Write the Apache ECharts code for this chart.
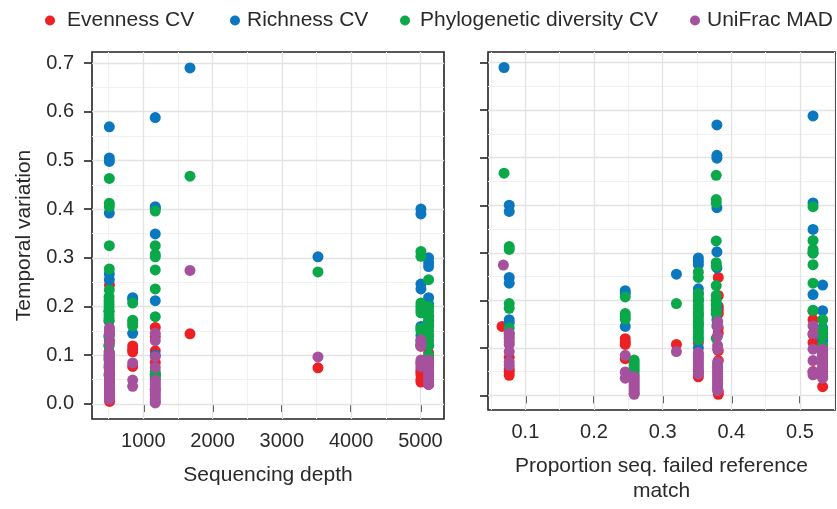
<!DOCTYPE html>
<html><head><meta charset="utf-8">
<script src="https://cdn.jsdelivr.net/npm/echarts@6/dist/echarts.min.js"></script>
<style>html,body{margin:0;padding:0;background:#fff}#c{width:837px;height:509px}</style>
</head><body><div id="c"></div>
<script>
const seriesNames = ['Evenness CV','Richness CV','Phylogenetic diversity CV','UniFrac MAD'];
const colors = ['#ED2024','#0A77BE','#0BA84A','#A5519E'];

// Left panel: groups of [sequencing depth, [temporal variation values]]
const evennessByDepth = [
  [512,[0.244,0.145,0.13]],
  [506,[0.107,0.09,0.075]],
  [514,[0.06,0.045,0.03,0.02,0.012,0.005]],
  [847,[0.119,0.112,0.107,0.077]],
  [1173,[0.157,0.138,0.109,0.085,0.06,0.03]],
  [1674,[0.144]],
  [3521,[0.074]],
  [5007,[0.084,0.07,0.065,0.06,0.05,0.045]],
  [5118,[0.105,0.095,0.06,0.04]]
];
const richnessByDepth = [
  [510,[0.569,0.505,0.498,0.392,0.267,0.255]],
  [505,[0.19,0.17,0.14,0.12,0.095,0.06]],
  [847,[0.218,0.215,0.145]],
  [1173,[0.588,0.405,0.402,0.349,0.212,0.1]],
  [1674,[0.69]],
  [3521,[0.302]],
  [5007,[0.4,0.39,0.246,0.236,0.159,0.14,0.12]],
  [5118,[0.3,0.29,0.282,0.218,0.205,0.2,0.18,0.17,0.16,0.14,0.12]]
];
const phyloByDepth = [
  [510,[0.463,0.412,0.405,0.325,0.277,0.234]],
  [506,[0.22,0.212,0.205,0.198,0.19,0.183,0.176,0.17,0.138,0.12,0.1,0.08]],
  [847,[0.207,0.172,0.166,0.16]],
  [1173,[0.396,0.325,0.307,0.302,0.275,0.236,0.179,0.066,0.061,0.056,0.052]],
  [1674,[0.4675]],
  [3521,[0.271]],
  [5007,[0.313,0.303,0.207,0.2,0.193,0.187,0.155,0.15,0.13,0.12]],
  [5118,[0.255,0.2,0.19,0.18,0.172,0.166,0.16,0.15,0.14,0.13,0.12,0.1]]
];
const unifracByDepth = [
  [512,[0.156,0.15,0.142,0.125,0.105,0.1,0.095,0.09,0.085,0.08,0.075,0.07,0.065,0.06,0.055,0.05,0.045,0.04,0.035,0.03,0.025,0.02,0.015,0.01]],
  [847,[0.084,0.049,0.036]],
  [1173,[0.145,0.13,0.097,0.075,0.049,0.045,0.04,0.035,0.03,0.025,0.02,0.015,0.01,0.005,0.002]],
  [1674,[0.274]],
  [3521,[0.0965]],
  [5007,[0.131,0.125,0.118,0.09,0.084,0.077]],
  [5118,[0.09,0.085,0.08,0.075,0.07,0.065,0.06,0.055,0.05,0.045,0.04]]
];

// Right panel: groups of [proportion failed reference match, [values]]
const evennessByProp = [
  [0.066,[0.145]],
  [0.0765,[0.08,0.056,0.05,0.042]],
  [0.2455,[0.119,0.112,0.107,0.077]],
  [0.32,[0.107]],
  [0.352,[0.111,0.05,0.039]],
  [0.381,[0.248,0.21,0.187,0.18,0.172,0.142,0.131,0.094,0.073,0.008,0.002]],
  [0.519,[0.177,0.159,0.128,0.111,0.05]],
  [0.533,[0.018]]
];
const richnessByProp = [
  [0.069,[0.69]],
  [0.0765,[0.4,0.387,0.248,0.236,0.159,0.152]],
  [0.2455,[0.22,0.215,0.145]],
  [0.32,[0.255]],
  [0.352,[0.289,0.282,0.275,0.224,0.214,0.2,0.17,0.15,0.1]],
  [0.379,[0.569,0.505,0.499,0.395,0.302,0.268,0.19,0.18,0.159,0.146]],
  [0.519,[0.588,0.405,0.349,0.3,0.212]],
  [0.533,[0.232,0.178,0.142,0.13,0.12,0.115]]
];
const phyloByProp = [
  [0.069,[0.4675]],
  [0.0765,[0.313,0.307,0.193,0.183,0.142,0.13]],
  [0.2455,[0.207,0.172,0.166,0.16]],
  [0.2585,[0.074,0.068,0.062,0.056,0.05,0.043]],
  [0.32,[0.193]],
  [0.352,[0.259,0.248,0.214,0.205,0.198,0.19,0.183,0.176,0.17,0.163,0.156,0.149,0.142,0.135,0.128,0.121,0.117]],
  [0.378,[0.463,0.412,0.405,0.325,0.279,0.272,0.231,0.21,0.2,0.19,0.18,0.172,0.12]],
  [0.519,[0.397,0.326,0.307,0.299,0.275,0.236,0.179]],
  [0.533,[0.159,0.138,0.13,0.125,0.105,0.095,0.084]]
];
const unifracByProp = [
  [0.068,[0.274]],
  [0.0765,[0.131,0.125,0.12,0.113,0.107,0.092,0.07,0.063]],
  [0.2455,[0.084,0.049,0.036]],
  [0.2585,[0.039,0.034,0.029,0.024,0.019,0.014,0.009,0.004,0.002]],
  [0.32,[0.092]],
  [0.352,[0.09,0.085,0.08,0.075,0.07,0.065,0.06,0.055,0.05,0.045]],
  [0.38,[0.155,0.145,0.125,0.105,0.097,0.07,0.065,0.06,0.055,0.05,0.045,0.04,0.035,0.03,0.025,0.02,0.015,0.01]],
  [0.519,[0.146,0.13,0.097,0.073,0.049,0.043]],
  [0.533,[0.097,0.09,0.085,0.08,0.075,0.07,0.065,0.06,0.055,0.05,0.045,0.04,0.036]]
];

// Axes: ranges, ticks and grid lines
const valueRange = [-0.031, 0.7226];
const depthRange = [260, 5340];
const propRange = [0.0456, 0.551];
const valueTicks = [0,0.1,0.2,0.3,0.4,0.5,0.6,0.7];
const valueMinor = [0.05,0.15,0.25,0.35,0.45,0.55,0.65];
const depthTicks = [1000,2000,3000,4000,5000];
const depthMinor = [500,1500,2500,3500,4500];
const propTicks = [0.1,0.2,0.3,0.4,0.5];
const propMinor = [0.05,0.15,0.25,0.35,0.45,0.55];

const FONT = 'Liberation Sans, Arial, Helvetica, sans-serif';
const TXT = '#2a2a2a';

function flatten(groups){
  const out = [];
  groups.forEach(g => g[1].forEach(v => out.push([g[0], v])));
  return out;
}

function gridLines(xMajor, xMinor){
  const data = [];
  const major = {color:'#e3e3e3', width:1.3, type:'solid'};
  const minor = {color:'#f1f1f1', width:1, type:'solid'};
  valueMinor.forEach(v => data.push({yAxis:v, lineStyle:minor}));
  xMinor.forEach(v => data.push({xAxis:v, lineStyle:minor}));
  valueTicks.forEach(v => data.push({yAxis:v, lineStyle:major}));
  xMajor.forEach(v => data.push({xAxis:v, lineStyle:major}));
  return {silent:true, symbol:['none','none'], label:{show:false}, z:1, animation:false, data};
}

const leftSets = [evennessByDepth, richnessByDepth, phyloByDepth, unifracByDepth];
const rightSets = [evennessByProp, richnessByProp, phyloByProp, unifracByProp];

const series = [];
[leftSets, rightSets].forEach((sets, gi) => {
  sets.forEach((set, i) => {
    const s = {
      name: seriesNames[i], type:'scatter', xAxisIndex:gi, yAxisIndex:gi,
      data: flatten(set), symbolSize:11, z:2,
      itemStyle:{color:colors[i], opacity:1},
      emphasis:{disabled:true}, animation:false
    };
    if (i === 0) s.markLine = gi === 0 ? gridLines(depthTicks, depthMinor) : gridLines(propTicks, propMinor);
    series.push(s);
  });
});

const tickStyle = {show:true, inside:false, length:8, lineStyle:{color:'#222', width:1.6}};
function xAxis(gi, range, ticks, name, fmt){
  return {
    type:'value', gridIndex:gi, min:range[0], max:range[1],
    axisLine:{show:false}, splitLine:{show:false},
    axisTick:Object.assign({customValues:ticks}, tickStyle),
    axisLabel:{customValues:ticks, margin:12, fontSize:20, color:TXT, fontFamily:FONT, formatter:fmt},
    name, nameLocation:'middle', nameGap:44,
    nameTextStyle:{fontSize:21, color:TXT, fontFamily:FONT, lineHeight:25, verticalAlign:'top'}
  };
}
function yAxis(gi, showLabels){
  return {
    type:'value', gridIndex:gi, min:valueRange[0], max:valueRange[1],
    axisLine:{show:false}, splitLine:{show:false},
    axisTick:Object.assign({customValues:valueTicks}, tickStyle),
    axisLabel:{show:showLabels, customValues:valueTicks, margin:18, fontSize:20, color:TXT, fontFamily:FONT,
      formatter:v => v.toFixed(1)},
    name: showLabels ? 'Temporal variation' : '', nameLocation:'middle', nameGap:57,
    nameTextStyle:{fontSize:21, color:TXT, fontFamily:FONT}
  };
}

const legendCenters = [52, 232, 405, 692];
const legendTextGap = [17, 12, 15, 12];
const legends = seriesNames.map((n, i) => ({
  data:[n], left:legendCenters[i]-legendTextGap[i]+5, top:5, icon:'circle',
  itemWidth:(legendTextGap[i]-5)*2, itemHeight:10,
  selectedMode:false, textStyle:{fontSize:21, color:TXT, fontFamily:FONT}
}));

const chart = echarts.init(document.getElementById('c'), null, {renderer:'canvas'});
chart.setOption({
  backgroundColor:'#fff',
  animation:false,
  legend: legends,
  grid:[
    {left:92, top:52, width:352, height:367, show:true, borderColor:'#222', borderWidth:1.6, backgroundColor:'transparent', containLabel:false},
    {left:488, top:52, width:347, height:367, show:true, borderColor:'#222', borderWidth:1.6, backgroundColor:'transparent', containLabel:false}
  ],
  xAxis:[
    xAxis(0, depthRange, depthTicks, 'Sequencing depth', v => String(Math.round(v))),
    xAxis(1, propRange, propTicks, 'Proportion seq. failed reference\nmatch', v => v.toFixed(1))
  ],
  yAxis:[ yAxis(0, true), yAxis(1, false) ],
  series
});
</script></body></html>
